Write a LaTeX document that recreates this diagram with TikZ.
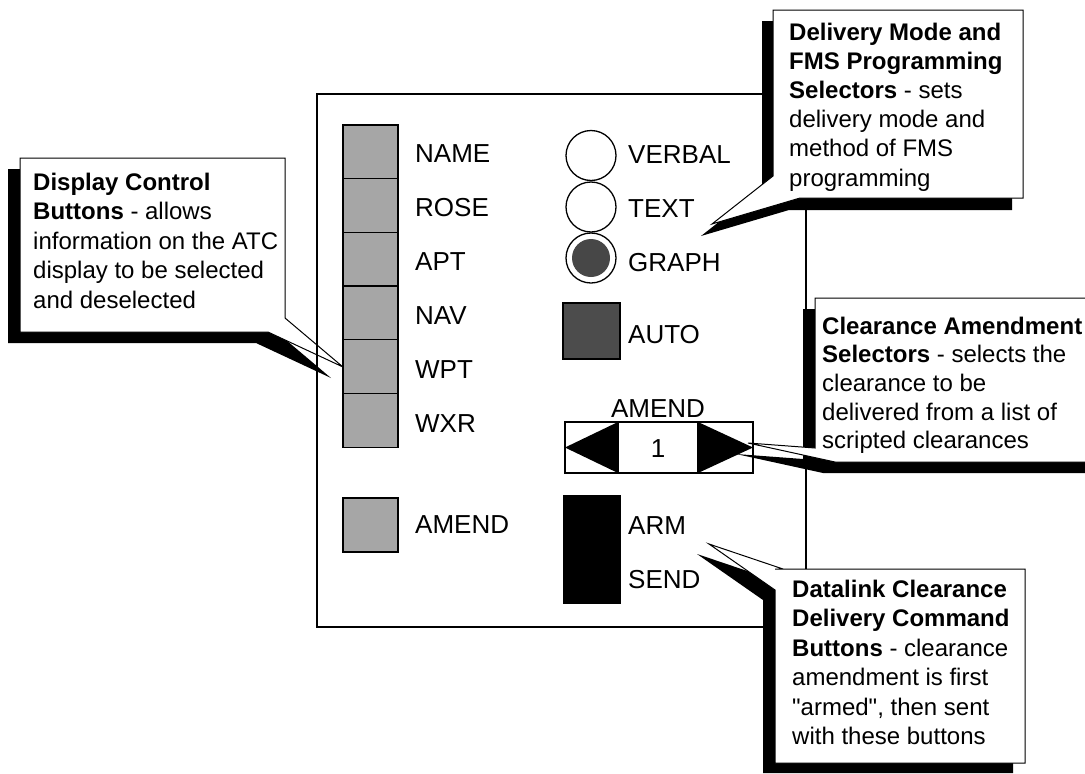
\documentclass[tikz,border=0pt]{standalone}
\usepackage{fontspec}
\setmainfont{Liberation Sans}
\newcommand\straightq{\XeTeXglyph\XeTeXcharglyph"22\relax}
\begin{document}
\begin{tikzpicture}[x=1pt,y=-1pt,
  btn/.style={draw=black, line width=1.3pt, fill=black!35, inner sep=0, minimum width=55pt, minimum height=53.7pt},
  lbl/.style={font=\fontsize{26}{30}\selectfont, anchor=base west, inner sep=0},
  ctext/.style={font=\fontsize{24}{29.5}\selectfont, anchor=base west, inner sep=0},
  shadowshape/.style={fill=black},
  calloutshape/.style={fill=white, draw=black, line width=1pt, line join=miter},
  panelline/.style={draw=black, line width=1.5pt},
  radio/.style={circle, draw=black, line width=1.3pt, fill=white, minimum size=50pt, inner sep=0}]
\useasboundingbox (0,0) rectangle (1085,774);
\begin{scope}
\clip (0,0) rectangle (1085,774);

% ---------- Display Control callout (under panel line)
\fill[shadowshape] (8,169) -- (273,169) -- (273,329) -- (331,378) -- (256,343) -- (8,343) -- cycle;
\path[calloutshape] (20,158) -- (285,158) -- (285,318) -- (343,367) -- (268,332) -- (20,332) -- cycle;
\node[ctext] (tdisp) at (33,190) {\vtop{\hbox{\textbf{Display Control}}\hbox{\textbf{Buttons} - allows}\hbox{information on the ATC}\hbox{display to be selected}\hbox{and deselected}}};

% ---------- Panel
\node[panelline, rectangle, minimum width=489pt, minimum height=533pt, inner sep=0] (panel) at (561.5,360.5) {};

% left button stack
\node[btn] (bname) at (370.5,151.8) {};
\node[btn] (brose) at (370.5,205.5) {};
\node[btn] (bapt)  at (370.5,259.2) {};
\node[btn] (bnav)  at (370.5,312.9) {};
\node[btn] (bwpt)  at (370.5,366.6) {};
\node[btn] (bwxr)  at (370.5,420.3) {};
\node[lbl] (lname) at (415,162) {NAME};
\node[lbl] (lrose) at (415,216) {ROSE};
\node[lbl] (lapt)  at (415,270) {APT};
\node[lbl] (lnav)  at (415,324) {NAV};
\node[lbl] (lwpt)  at (415,378) {WPT};
\node[lbl] (lwxr)  at (415,432) {WXR};

% bottom amend button
\node[btn, minimum height=54pt] (bamend) at (370.5,525) {};
\node[lbl] (lamend) at (415,533) {AMEND};

% radio buttons
\node[radio] (rverbal) at (591,155.5) {};
\node[radio] (rtext)   at (591,207) {};
\node[radio] (rgraph)  at (591,258) {};
\node[circle, fill=black!72, minimum size=38pt, inner sep=0] (rgraphdot) at (rgraph) {};
\node[lbl] (lverbal) at (628,163) {VERBAL};
\node[lbl] (ltext)   at (628,217) {TEXT};
\node[lbl] (lgraph)  at (628,271) {GRAPH};

% auto
\node[draw=black, line width=1.3pt, fill=black!70, minimum width=57pt, minimum height=56pt, inner sep=0] (bauto) at (591.5,331) {};
\node[lbl] (lauto) at (628,343) {AUTO};

% amend stepper
\node[font=\fontsize{26}{30}\selectfont, anchor=base, inner sep=0] (lstep) at (658,417) {AMEND};
\node[draw=black, line width=1.3pt, fill=white, minimum width=188pt, minimum height=51pt, inner sep=0] (stepper) at (659,447.5) {};
\fill[black] (618,422) -- (618,473) -- (565,447.5) -- cycle;
\fill[black] (698,422) -- (698,473) -- (753,447.5) -- cycle;
\draw[line width=1.3pt] (618,422) -- (618,473) (698,422) -- (698,473);
\node[font=\fontsize{26}{30}\selectfont, anchor=base, inner sep=0] (lone) at (658,457) {1};

% arm / send
\node[draw=black, fill=black, minimum width=57pt, minimum height=108pt, inner sep=0] (barm) at (591.5,549) {};
\node[lbl] (larm)  at (628,534) {ARM};
\node[lbl] (lsend) at (628,588) {SEND};

% ---------- Delivery Mode callout
\fill[shadowshape] (762,21) -- (1012,21) -- (1012,210) -- (789,210) -- (701,236) -- (762,188) -- cycle;
\path[calloutshape] (773,10) -- (1023,10) -- (1023,198) -- (800,198) -- (712,224) -- (773,176) -- cycle;
\node[ctext] (tdeliv) at (789,40) {\vtop{\baselineskip=29.2pt\hbox{\textbf{Delivery Mode and}}\hbox{\textbf{FMS Programming}}\hbox{\textbf{Selectors} - sets}\hbox{delivery mode and}\hbox{method of FMS}\hbox{programming}}};

% ---------- Clearance Amendment callout
\fill[shadowshape] (803,309) -- (1092,309) -- (1092,473) -- (823,473) -- (736,454) -- (803,459) -- cycle;
\path[calloutshape] (815,298) -- (1100,298) -- (1100,462) -- (835,462) -- (748,443) -- (815,448) -- cycle;
\node[ctext] (tclear) at (822,334) {\vtop{\baselineskip=28.7pt\hbox{\textbf{Clearance Amendment}}\hbox{\textbf{Selectors} - selects the}\hbox{clearance to be}\hbox{delivered from a list of}\hbox{scripted clearances}}};

% ---------- Datalink callout
\fill[shadowshape] (763,579) -- (1013,579) -- (1013,773) -- (763,773) -- (763,600) -- (697,554) -- (771,579) -- cycle;
\path[calloutshape] (775,569) -- (1025,569) -- (1025,763) -- (775,763) -- (775,590) -- (709,544) -- (783,569) -- cycle;
\node[ctext] (tdata) at (792,597) {\vtop{\baselineskip=29.5pt\hbox{\textbf{Datalink Clearance}}\hbox{\textbf{Delivery Command}}\hbox{\textbf{Buttons} - clearance}\hbox{amendment is first}\hbox{\straightq armed\straightq, then sent}\hbox{with these buttons}}};
\end{scope}
\end{tikzpicture}
\end{document}
